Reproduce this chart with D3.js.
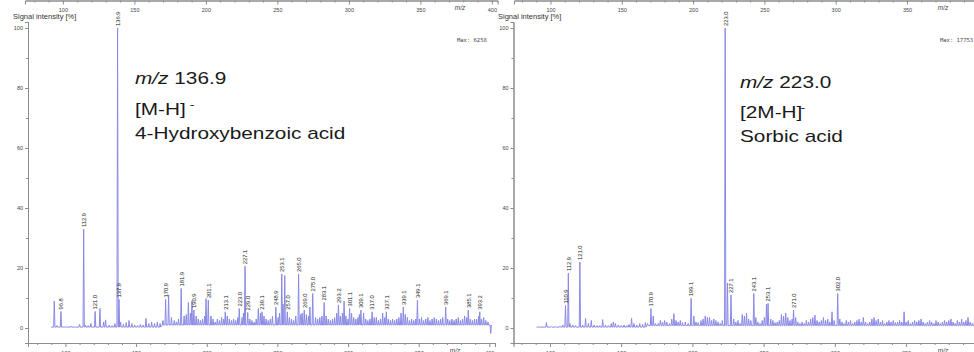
<!DOCTYPE html>
<html>
<head>
<meta charset="utf-8">
<script src="https://cdn.jsdelivr.net/npm/d3@7/dist/d3.min.js"></script>
<style>
  body { margin: 0; background: #fff; }
  svg { display: block; font-family: "Liberation Sans", Arial, sans-serif; }
</style>
</head>
<body>
<svg id="chart" width="974" height="352"></svg>
<script>
// labelled peaks [m/z, intensity %]
const leftPeaks = [
  [96.8, 5.5], [112.9, 33], [121.0, 5.5], [136.9, 100], [137.9, 9.5],
  [170.9, 9.5], [181.9, 13.2], [190.9, 6], [201.1, 9.3], [213.1, 5.4],
  [223.0, 6.5], [227.1, 20.6], [229.0, 5.2], [239.1, 5.4], [248.9, 7],
  [253.1, 18], [257.0, 5.4], [265.0, 18], [269.0, 6], [275.0, 11.5],
  [283.1, 8.5], [293.2, 7.7], [301.1, 6.5], [309.1, 6], [317.0, 5.4],
  [327.1, 5.4], [339.1, 7], [349.1, 9.3], [369.1, 7], [385.1, 6], [393.2, 5.4]
];
// unlabelled small peaks / noise
const leftNoise = [
  [92.1, 9], [94, 0.8], [99, 0.5], [101, 0.4], [104, 0.6], [107, 0.4], [110, 1.2],
  [114, 1.0], [116, 0.8], [118, 1.5], [124.4, 6.5], [127, 2.0], [128.4, 2.7], [131, 1.0],
  [133, 0.8], [135, 1.5], [139, 2.0], [141, 1.2], [143, 1.8], [145, 2.5], [147, 1.5],
  [149, 1.0], [151, 0.8], [153, 1.2], [155, 1.0], [157, 3.2], [159, 1.5], [161, 2.0],
  [163, 1.5], [165, 2.0], [167, 1.5], [169, 2.5], [173.0, 11], [175, 3.5], [177, 2.5],
  [178.5, 2.0], [180, 3.0], [184, 4.0], [185.5, 4.5], [187, 8.5], [188.5, 5], [189.5, 9],
  [192.5, 4], [194, 3.0], [195.5, 2.5], [197, 3.0], [198.5, 4.0], [199.5, 9.8], [203, 4],
  [204.5, 3.0], [206, 2.0], [207.5, 3.0], [209, 2.5], [210.5, 3.5], [212, 3.0], [214.5, 4.0],
  [216, 3.0], [217.5, 2.5], [219, 3.0], [220.5, 2.5], [222, 3.5], [225, 3.5], [226, 5],
  [230.5, 3.0], [232, 2.5], [233.5, 2.0], [235, 3.0], [236.5, 6.5], [238, 5], [240.5, 4],
  [242, 3], [243.5, 2.5], [245, 3], [246.5, 4], [250.5, 3.5], [251.5, 5], [254, 8],
  [255.2, 17.5], [258.5, 3.5], [260, 3], [261.5, 2.5], [263, 4], [266.5, 4.5], [267.5, 5],
  [270.5, 4.5], [272, 4], [273, 7], [277, 3.5], [278.5, 3], [280, 3.5], [281.5, 4],
  [284.5, 4], [286, 3], [287.5, 2.5], [289, 3], [290.5, 3.5], [292, 5], [294.5, 4],
  [296, 5], [297.2, 9], [298.5, 4], [300, 3], [302.5, 5], [304, 3.5], [305.5, 3],
  [307, 3.5], [308, 4.5], [311, 5], [312.5, 3], [314, 2.5], [315.5, 3], [318.5, 3.5],
  [320, 3.5], [321.5, 2.5], [323, 3], [324.5, 5], [326, 3.5], [328.5, 3], [330, 2.5],
  [331.5, 3], [333, 2.5], [334.5, 3], [336, 3.5], [337.5, 5], [340.5, 4.5], [342, 3.5],
  [343.5, 2.5], [345, 3], [346.5, 2.5], [348, 3], [350.5, 3], [352, 3.5], [353.5, 2.5],
  [355, 3], [356.5, 3.5], [358, 2.5], [359.5, 3], [361, 3.5], [362.5, 3], [364, 2.5],
  [365.5, 3], [367, 3.5], [370.5, 3], [372, 2.5], [373.5, 3], [375, 2.5], [376.5, 3],
  [378, 3.5], [379.5, 2.5], [381, 3], [382.5, 4], [384, 3.5], [386.5, 3], [388, 2.5],
  [389.5, 3], [391, 3], [392.5, 4], [394.5, 3], [396, 3.5], [397.5, 2.5], [399, 2],
  [401, -1.8]
];
const leftRange = [89.8, 401.5];
const leftFloor = [[0, 0.3], [168, 1.0]];

const rightPeaks = [
  [110.9, 7.5], [112.9, 18.3], [121.0, 22], [170.9, 6.5], [199.1, 9.9],
  [223.0, 100], [227.1, 11], [243.1, 11.5], [253.1, 8.2], [271.0, 6], [302.0, 11.5]
];
const rightNoise = [
  [92, 0.3], [97.5, 1.8], [101, 0.5], [104, 0.4], [107, 0.6], [109, 1.0], [114, 1.5],
  [116, 1.0], [118, 0.8], [123, 1.0], [125, 3.2], [127, 1.5], [129, 2.5], [131, 1.0],
  [133, 0.8], [135, 0.8], [137, 2.8], [139, 1.0], [141, 0.8], [143, 1.5], [144.5, 2.0],
  [146, 1.5], [148, 1.0], [150, 0.8], [152, 1.0], [154, 0.8], [155.5, 1.2], [157.3, 3.2],
  [159, 1.5], [161, 1.0], [163, 1.5], [165, 1.2], [167, 1.8], [168.5, 1.5], [172.5, 4.0],
  [174, 1.5], [176, 1.5], [177.5, 2.5], [179, 2.0], [180.5, 2.5], [182, 2.0], [184, 1.5],
  [185.5, 3.0], [187, 4.8], [188.5, 2.5], [190, 2.0], [191.5, 2.5], [193, 1.8], [195, 2.0],
  [197, 1.5], [201, 4.0], [202.5, 2.0], [204, 1.8], [206, 2.5], [207.5, 3.0], [209, 4.0],
  [210.5, 3.5], [212, 3.5], [213.5, 2.5], [215, 3.0], [216.5, 2.5], [218, 2.0], [219.5, 1.5],
  [221, 2.5], [224.6, 15], [229, 3.0], [230.5, 2.0], [232, 2.5], [233.5, 1.5], [235, 4.5],
  [236.5, 4.0], [238, 5.0], [239.5, 3.0], [241, 2.5], [244.5, 3.5], [246, 2.0], [247.5, 1.5],
  [249, 2.5], [250.5, 3.5], [252, 8.0], [255, 3.0], [256.5, 2.5], [258, 1.8], [259.5, 2.0],
  [261, 2.5], [262.5, 4.5], [264, 4.0], [265.5, 5.0], [267, 3.5], [268.5, 2.5], [270, 3.0],
  [272.5, 3.5], [274, 2.0], [275.5, 1.5], [277, 2.0], [278.5, 1.5], [280, 2.5], [281.5, 2.0],
  [283, 3.0], [284.5, 3.5], [286, 4.3], [287.5, 2.5], [289, 2.0], [290.5, 2.5], [292, 3.5],
  [293.5, 2.5], [295, 3.0], [296.5, 2.0], [298, 5.4], [299.5, 2.5], [303.5, 3.0], [305, 2.0],
  [306.5, 1.5], [308, 2.5], [309.5, 2.0], [311, 2.5], [312.5, 1.5], [314, 2.0], [315.5, 2.5],
  [317, 3.0], [318.5, 2.0], [320, 3.5], [321.5, 2.0], [323, 1.5], [324.5, 2.0], [326, 3.0],
  [327.5, 3.5], [329, 2.5], [330.5, 3.0], [332, 2.0], [333.5, 2.5], [335, 1.5], [336.5, 2.0],
  [338, 2.5], [339.5, 2.0], [341, 2.5], [342.5, 1.8], [344, 2.0], [345.5, 2.5], [347, 2.0],
  [348.6, 5.4], [350, 2.0], [351.5, 2.5], [353, 1.5], [354.5, 2.0], [356, 2.5], [357.5, 2.0],
  [359, 2.5], [360.5, 3.0], [362, 2.0], [363.5, 1.5], [365, 2.0], [366.5, 2.5], [368, 2.0],
  [369.5, 1.5], [371, 2.5], [372.5, 2.0], [374, 1.5], [375.5, 2.0], [377, 2.5], [378.5, 2.0],
  [380, 2.5], [381.5, 3.0], [383, 2.0], [384.5, 1.5], [386, 2.5], [387.5, 2.0], [389, 3.0],
  [390.5, 2.0], [392, 2.5], [393.5, 3.5], [395, 2.0], [396.5, 1.5], [398, 2.0], [399.5, 2.5],
  [401, 2.0]
];
const rightRange = [90.6, 402];
const rightFloor = [[0, 0.3], [168, 0.8]];

const xMajor = [100, 150, 200, 250, 300, 350, 400];
const xMinor = [80, 90, 110, 120, 130, 140, 160, 170, 180, 190, 210, 220, 230, 240,
  260, 270, 280, 290, 310, 320, 330, 340, 360, 370, 380, 390];
const yMajor = [0, 20, 40, 60, 80, 100];
const yMinor = [10, 30, 50, 70, 90];

const svg = d3.select("#chart");
const SPEC = "#8a8ae6", AXIS = "#8c8c8c", TXT = "#444";

const y = d3.scaleLinear().domain([-5, 102]).range([343, 22]);

function axisX(g, x, yPos, mzX) {
  const a = g.append("g").attr("transform", `translate(0,${yPos})`);
  a.call(d3.axisBottom(x).tickValues(xMinor).tickSize(2).tickFormat(""));
  a.append("g").call(d3.axisBottom(x).tickValues(xMajor).tickSize(4).tickPadding(4));
  a.selectAll("path, line").attr("stroke", AXIS);
  a.selectAll("text").attr("fill", TXT).style("font-size", "5.5px").style("font-family", "Liberation Sans, Arial");
  a.append("text").attr("x", mzX).attr("y", 9.5).attr("text-anchor", "middle")
    .attr("fill", TXT).style("font-size", "6.5px").style("font-style", "italic").text("m/z");
}

function drawPanel(cfg) {
  const { x, xTop, peaks, noise, range, floor } = cfg;
  const g = svg.append("g");
  const floorAt = mz => { let f = floor[0][1]; floor.forEach(d => { if (mz >= d[0]) f = d[1]; }); return f; };

  // top strip: x axis of the panel above (cropped)
  axisX(g, xTop, 0.5, cfg.mzTop);

  // y axis
  const ya = g.append("g").attr("transform", `translate(${x.range()[0]},0)`);
  ya.call(d3.axisLeft(y).tickValues(yMinor).tickSize(2).tickFormat(""));
  ya.append("g").call(d3.axisLeft(y).tickValues(yMajor).tickSize(3).tickPadding(2));
  ya.selectAll("path, line").attr("stroke", AXIS);
  ya.selectAll("text").attr("fill", TXT).style("font-size", "5.5px");

  // bottom x axis
  axisX(g, x, y(-5), cfg.mzBottom);

  g.append("text").attr("x", cfg.titleX).attr("y", 19).attr("fill", "#333")
    .style("font-size", "7.5px").text("Signal intensity [%]");
  g.append("text").attr("x", cfg.maxX).attr("y", 42).attr("fill", "#444")
    .style("font-family", "DejaVu Sans Mono, Liberation Mono, monospace")
    .style("font-size", "5.5px").text(cfg.maxText);

  // spectrum trace
  const all = peaks.concat(noise).slice().sort((a, b) => a[0] - b[0]);
  const w = 0.45;
  const pts = [[range[0], floorAt(range[0])]];
  all.forEach(p => {
    const f = floorAt(p[0]);
    pts.push([p[0] - w, f], [p[0], p[1]], [p[0] + w, f]);
  });
  pts.push([range[1], floorAt(range[1])]);
  const line = d3.line().x(d => x(d[0])).y(d => y(d[1]));
  g.append("path").datum(pts).attr("d", line)
    .attr("fill", "none").attr("stroke", SPEC).attr("stroke-width", 1);

  // peak labels
  g.selectAll("text.pk").data(peaks).enter().append("text")
    .attr("class", "pk")
    .attr("transform", d => `translate(${x(d[0]) + 0.3},${y(d[1]) - 2}) rotate(-90)`)
    .attr("dy", "0.35em")
    .attr("fill", "#222")
    .style("font-size", "5.8px")
    .text(d => d[0].toFixed(1));

  // annotation
  const an = cfg.annot;
  const t1 = g.append("text").attr("transform", `translate(${an.x},${an.y[0]}) scale(1.3,1)`)
    .style("font-size", "16px").attr("fill", "#1a1a1a");
  t1.append("tspan").style("font-style", "italic").text("m/z");
  t1.append("tspan").text(" " + an.mz);
  const t2 = g.append("text").attr("transform", `translate(${an.x},${an.y[1]}) scale(1.3,1)`)
    .style("font-size", "16px").attr("fill", "#1a1a1a");
  t2.append("tspan").text(an.ion);
  t2.append("tspan").attr("dx", an.supDx).attr("dy", -7).style("font-size", "11px").text("-");
  g.append("text").attr("transform", `translate(${an.x},${an.y[2]}) scale(1.3,1)`)
    .style("font-size", "16px").attr("fill", "#1a1a1a").text(an.name);
}

drawPanel({
  x: d3.scaleLinear().domain([73.5, 404]).range([28, 495]),
  xTop: d3.scaleLinear().domain([73.5, 404]).range([25, 497.6]),
  peaks: leftPeaks, noise: leftNoise, range: leftRange, floor: leftFloor,
  titleX: 13, maxX: 457, maxText: "Max: 6258", mzTop: 460, mzBottom: 455,
  annot: { x: 135, y: [84, 115, 139], mz: "136.9", ion: "[M-H]", supDx: 3, name: "4-Hydroxybenzoic acid" }
});

drawPanel({
  x: d3.scaleLinear().domain([74.4, 404]).range([513.5, 983]),
  xTop: d3.scaleLinear().domain([74.4, 404]).range([514, 984]),
  peaks: rightPeaks, noise: rightNoise, range: rightRange, floor: rightFloor,
  titleX: 498, maxX: 940, maxText: "Max: 17753", mzTop: 943, mzBottom: 943,
  annot: { x: 740, y: [88, 118, 142], mz: "223.0", ion: "[2M-H]", supDx: -1.5, name: "Sorbic acid" }
});
</script>
</body>
</html>
